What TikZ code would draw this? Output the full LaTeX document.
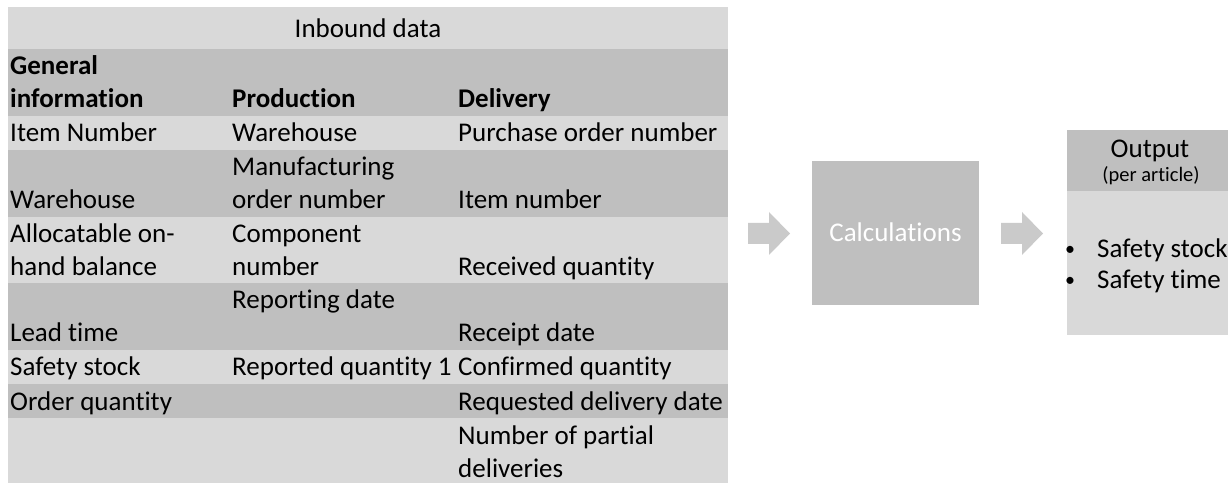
\documentclass[tikz,border=0pt]{standalone}
\usepackage{fontspec}
\setmainfont[Ligatures=NoCommon]{Carlito}
\definecolor{lightg}{HTML}{D9D9D9}
\definecolor{darkg}{HTML}{BFBFBF}
\definecolor{arrowg}{HTML}{CACACA}
\begin{document}
\begin{tikzpicture}[x=1bp,y=-1bp,
  cell/.style={anchor=base west, inner sep=0pt, font=\fontsize{27bp}{33bp}\selectfont},
  hcell/.style={anchor=base west, inner sep=0pt, font=\fontsize{27bp}{33bp}\selectfont\bfseries},
  ctext/.style={anchor=base, inner sep=0pt, font=\fontsize{27bp}{33bp}\selectfont},
  bul/.style={anchor=base west, inner sep=0pt, font=\fontsize{20bp}{24bp}\selectfont},
  blockarrow/.style={fill=arrowg},
]
\useasboundingbox (0,0) rectangle (1228,483);
% table rows
\fill[lightg] (8,7) rectangle (728,49);
\fill[darkg] (8,49) rectangle (728,116);
\fill[lightg] (8,116) rectangle (728,150);
\fill[darkg] (8,150) rectangle (728,217);
\fill[lightg] (8,217) rectangle (728,283);
\fill[darkg] (8,283) rectangle (728,350);
\fill[lightg] (8,350) rectangle (728,384);
\fill[darkg] (8,384) rectangle (728,418);
\fill[lightg] (8,418) rectangle (728,483);
% title
\node[ctext] (title) at (368,38) {Inbound data};
% header
\node[hcell] (h1a) at (10,75) {General};
\node[hcell] (h1b) at (10,108) {information};
\node[hcell] (h2) at (232,108) {Production};
\node[hcell] (h3) at (458,108) {Delivery};
% column 1
\node[cell] (g1) at (10,142) {Item Number};
\node[cell] (g2) at (10,209) {Warehouse};
\node[cell] (g3a) at (10,243) {Allocatable on-};
\node[cell] (g3b) at (10,276) {hand balance};
\node[cell] (g4) at (10,342) {Lead time};
\node[cell] (g5) at (10,376) {Safety stock};
\node[cell] (g6) at (10,410) {Order quantity};
% column 2
\node[cell] (p1) at (232,142) {Warehouse};
\node[cell] (p2a) at (232,176) {Manufacturing};
\node[cell] (p2b) at (232,209) {order number};
\node[cell] (p3a) at (232,243) {Component};
\node[cell] (p3b) at (232,276) {number};
\node[cell] (p4) at (232,309) {Reporting date};
\node[cell] (p5) at (232,376) {Reported quantity 1};
% column 3
\node[cell] (d1) at (458,142) {Purchase order number};
\node[cell] (d2) at (458,209) {Item number};
\node[cell] (d3) at (458,276) {Received quantity};
\node[cell] (d4) at (458,342) {Receipt date};
\node[cell] (d5) at (458,376) {Confirmed quantity};
\node[cell] (d6) at (458,410) {Requested delivery date};
\node[cell] (d7a) at (458,444) {Number of partial};
\node[cell] (d7b) at (458,477) {deliveries};
% arrows
\fill[blockarrow] (748,223) -- (769,223) -- (769,212) -- (790,233.5) -- (769,255) -- (769,244) -- (748,244) -- cycle;
\fill[blockarrow] (1001,223) -- (1022,223) -- (1022,212) -- (1043,233.5) -- (1022,255) -- (1022,244) -- (1001,244) -- cycle;
% calculations
\fill[darkg] (812,161) rectangle (979,305);
\node[ctext, text=white] (calc) at (895.5,242) {Calculations};
% output
\fill[darkg] (1067,130) rectangle (1240,191);
\fill[lightg] (1067,191) rectangle (1240,335);
\node[ctext] (out) at (1150,158) {Output};
\node[anchor=base, inner sep=0pt, font=\fontsize{20.5bp}{24bp}\selectfont] (per) at (1151,182) {(per article)};
\node[bul] (b1) at (1065,256) {•};
\node[cell] (o1) at (1097,258) {Safety stock};
\node[bul] (b2) at (1065,287) {•};
\node[cell] (o2) at (1097,289) {Safety time};
\end{tikzpicture}
\end{document}
